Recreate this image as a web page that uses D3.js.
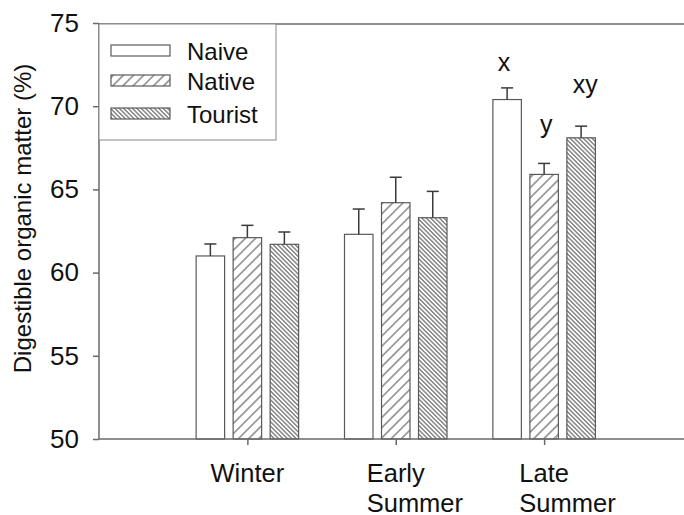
<!DOCTYPE html>
<html>
<head>
<meta charset="utf-8">
<script src="https://cdn.jsdelivr.net/npm/d3@7"></script>
<style>
  html, body { margin: 0; padding: 0; background: #fff; }
  svg { display: block; font-family: "Liberation Sans", Arial, sans-serif; }
</style>
</head>
<body>
<svg id="chart" width="684" height="515"></svg>
<script>
// Seasons on the x axis (multi-line labels split on "\n")
const seasons = ["Winter", "Early\nSummer", "Late\nSummer"];
// Animal groups
const groups = ["Naive", "Native", "Tourist"];
// Mean digestible organic matter (%) per season, one array per group
const naiveMean   = [61.0, 62.3, 70.4];
const nativeMean  = [62.1, 64.2, 65.9];
const touristMean = [61.7, 63.3, 68.1];
// Standard errors
const naiveSE   = [0.72, 1.52, 0.70];
const nativeSE  = [0.74, 1.53, 0.66];
const touristSE = [0.74, 1.58, 0.70];
// Significance letters for Late Summer and the level (%) they sit at
const lateLetters = ["x", "y", "xy"];
const lateLetterLevel = [72.1, 68.4, 70.8];
// Y axis ticks
const yTicks = [50, 55, 60, 65, 70, 75];

const means = [naiveMean, nativeMean, touristMean];
const ses = [naiveSE, nativeSE, touristSE];

const svg = d3.select("#chart");
const axisColor = "#6a6a6a";
const barStroke = "#5a5a5a";
const textColor = "#111";

const y = d3.scaleLinear().domain([50, 75]).range([439, 23]);
const x = d3.scalePoint().domain(seasons).range([99, 692.5]).padding(1);
const xInner = d3.scaleBand().domain(groups).range([-51.25, 51.25]).paddingInner(0.23);

// Hatch patterns
const defs = svg.append("defs");
function hatch(id, spacing, angle) {
  const p = defs.append("pattern")
    .attr("id", id)
    .attr("patternUnits", "userSpaceOnUse")
    .attr("width", spacing).attr("height", spacing)
    .attr("patternTransform", `rotate(${angle})`);
  p.append("rect").attr("width", spacing).attr("height", spacing).attr("fill", "#fff");
  p.append("line")
    .attr("x1", spacing / 2).attr("x2", spacing / 2)
    .attr("y1", -1).attr("y2", spacing + 1)
    .attr("stroke", "#4a4a4a").attr("stroke-width", 1);
}
hatch("hatch-native", 7.2, 45);
hatch("hatch-tourist", 3.1, -45);
const fills = { Naive: "#fff", Native: "url(#hatch-native)", Tourist: "url(#hatch-tourist)" };

// Bars and error bars
const rows = [];
seasons.forEach((s, i) => groups.forEach((g, j) => {
  rows.push({ season: s, group: g, mean: means[j][i], se: ses[j][i] });
}));

const bars = svg.append("g");
bars.selectAll("rect").data(rows).join("rect")
  .attr("x", d => x(d.season) + xInner(d.group))
  .attr("y", d => y(d.mean))
  .attr("width", xInner.bandwidth())
  .attr("height", d => y(50) - y(d.mean))
  .attr("fill", d => fills[d.group])
  .attr("stroke", barStroke)
  .attr("stroke-width", 1.2);

const err = svg.append("g").attr("stroke", "#3a3a3a").attr("stroke-width", 1.5);
rows.forEach(d => {
  const cx = x(d.season) + xInner(d.group) + xInner.bandwidth() / 2;
  err.append("line").attr("x1", cx).attr("x2", cx)
    .attr("y1", y(d.mean)).attr("y2", y(d.mean + d.se));
  err.append("line").attr("x1", cx - 6).attr("x2", cx + 6)
    .attr("y1", y(d.mean + d.se)).attr("y2", y(d.mean + d.se));
});

// Significance letters above the Late Summer bars
const late = seasons[2];
svg.append("g").selectAll("text").data(lateLetters).join("text")
  .attr("x", (d, j) => x(late) + xInner(groups[j]) + xInner.bandwidth() / 2 - (j === 0 ? 3 : j === 2 ? -4 : -2))
  .attr("y", (d, j) => y(lateLetterLevel[j]))
  .attr("text-anchor", "middle")
  .attr("font-size", 25)
  .attr("fill", textColor)
  .text(d => d);

// Y axis
const yAxis = svg.append("g").attr("transform", "translate(99,0)")
  .call(d3.axisLeft(y).tickValues(yTicks).tickSize(6).tickPadding(14).tickFormat(d3.format("d")));
yAxis.select(".domain").attr("stroke", axisColor).attr("stroke-width", 1.5).attr("d", `M0,${y(50)}V${y(75)}`);
yAxis.selectAll(".tick line").attr("stroke", axisColor).attr("stroke-width", 1.5);
yAxis.selectAll(".tick text").attr("font-size", 26).attr("fill", textColor)
  .attr("font-family", "Liberation Sans, Arial, sans-serif");

// X axis
const xAxis = svg.append("g").attr("transform", `translate(0,${y(50)})`)
  .call(d3.axisBottom(x).tickSize(6).tickFormat(""));
xAxis.select(".domain").attr("stroke", axisColor).attr("stroke-width", 1.5).attr("d", "M99,0H700");
xAxis.selectAll(".tick line").attr("stroke", axisColor).attr("stroke-width", 1.5);

// Season labels: first line centred on the tick, following lines left-aligned to it
const labelG = svg.append("g").attr("font-size", 25.5).attr("fill", textColor);
seasons.forEach(s => {
  const lines = s.split("\n");
  const first = labelG.append("text")
    .attr("x", x(s)).attr("y", 482)
    .attr("text-anchor", "middle").text(lines[0]);
  const left = first.node().getBBox().x;
  lines.slice(1).forEach((ln, k) => {
    labelG.append("text").attr("x", left).attr("y", 482 + 29.5 * (k + 1))
      .attr("text-anchor", "start").text(ln);
  });
});

// Y axis title
svg.append("text")
  .attr("transform", "translate(30.5,218.5) rotate(-90)")
  .attr("text-anchor", "middle")
  .attr("font-size", 24)
  .attr("fill", textColor)
  .text("Digestible organic matter (%)");

// Top frame line
svg.append("line").attr("x1", 99).attr("x2", 700).attr("y1", y(75) + 1).attr("y2", y(75) + 1)
  .attr("stroke", axisColor).attr("stroke-width", 1.5);

// Legend
const legend = svg.append("g");
legend.append("rect")
  .attr("x", 99).attr("y", y(75) + 1).attr("width", 177).attr("height", 140 - y(75) - 1)
  .attr("fill", "#fff").attr("stroke", "#8a8a8a").attr("stroke-width", 1);
groups.forEach((g, j) => {
  const cy = [50.5, 80.5, 113.5][j];
  legend.append("rect")
    .attr("x", 111).attr("y", cy - 5.5).attr("width", 59).attr("height", 11)
    .attr("fill", fills[g]).attr("stroke", barStroke).attr("stroke-width", 1.2);
  legend.append("text")
    .attr("x", 187).attr("y", cy + 9.5)
    .attr("font-size", 24).attr("fill", textColor)
    .text(g);
});
</script>
</body>
</html>
